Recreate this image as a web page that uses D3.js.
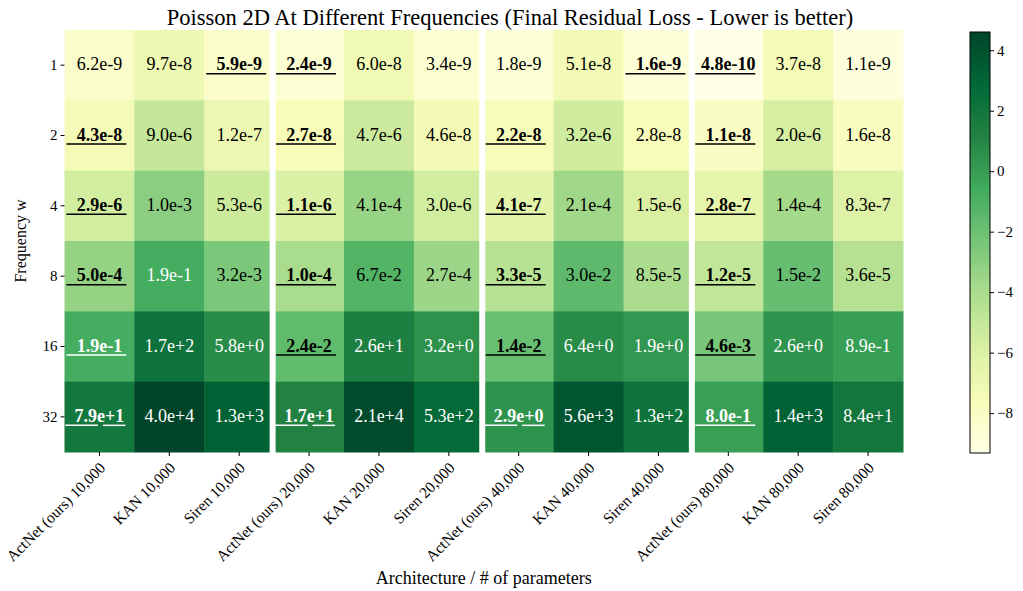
<!DOCTYPE html>
<html>
<head>
<meta charset="utf-8">
<script src="https://cdn.jsdelivr.net/npm/d3@7"></script>
<style>
  body { margin: 0; background: #fff; }
  text { font-family: "Liberation Serif", "DejaVu Serif", serif; }
</style>
</head>
<body>
<svg width="1023" height="591"></svg>
<script>
// columns: architecture / # of parameters
let columns = [
  "ActNet (ours) 10,000", "KAN 10,000", "Siren 10,000",
  "ActNet (ours) 20,000", "KAN 20,000", "Siren 20,000",
  "ActNet (ours) 40,000", "KAN 40,000", "Siren 40,000",
  "ActNet (ours) 80,000", "KAN 80,000", "Siren 80,000"
]
let frequencies = ["1", "2", "4", "8", "16", "32"]

// final residual loss, one array per frequency row
let freq1  = [6.2e-9, 9.7e-8, 5.9e-9, 2.4e-9, 6.0e-8, 3.4e-9, 1.8e-9, 5.1e-8, 1.6e-9, 4.8e-10, 3.7e-8, 1.1e-9]
let freq2  = [4.3e-8, 9.0e-6, 1.2e-7, 2.7e-8, 4.7e-6, 4.6e-8, 2.2e-8, 3.2e-6, 2.8e-8, 1.1e-8, 2.0e-6, 1.6e-8]
let freq4  = [2.9e-6, 1.0e-3, 5.3e-6, 1.1e-6, 4.1e-4, 3.0e-6, 4.1e-7, 2.1e-4, 1.5e-6, 2.8e-7, 1.4e-4, 8.3e-7]
let freq8  = [5.0e-4, 1.9e-1, 3.2e-3, 1.0e-4, 6.7e-2, 2.7e-4, 3.3e-5, 3.0e-2, 8.5e-5, 1.2e-5, 1.5e-2, 3.6e-5]
let freq16 = [1.9e-1, 1.7e+2, 5.8e+0, 2.4e-2, 2.6e+1, 3.2e+0, 1.4e-2, 6.4e+0, 1.9e+0, 4.6e-3, 2.6e+0, 8.9e-1]
let freq32 = [7.9e+1, 4.0e+4, 1.3e+3, 1.7e+1, 2.1e+4, 5.3e+2, 2.9e+0, 5.6e+3, 1.3e+2, 8.0e-1, 1.4e+3, 8.4e+1]
let rows = [freq1, freq2, freq4, freq8, freq16, freq32]

let cbarTicks = [4, 2, 0, -2, -4, -6, -8]

let svg = d3.select("svg")

let hmLeft = 64.5, hmRight = 903, hmTop = 30, hmBottom = 452

let xScale = d3.scaleBand().domain(d3.range(columns.length)).range([hmLeft, hmRight])
let yScale = d3.scaleBand().domain(d3.range(frequencies.length)).range([hmTop, hmBottom])

let allLogs = rows.flat().map(v => Math.log10(v))
let lo = d3.min(allLogs), hi = d3.max(allLogs)

let ylgn = d3.schemeYlGn[9]
let colorScale = d3.scaleLinear()
  .domain(d3.range(9).map(i => lo + (hi - lo) * i / 8))
  .range(ylgn)

// flatten to cells, best = lowest in each group of 3
let cells = []
rows.forEach((r, ri) => {
  r.forEach((v, ci) => {
    let g = Math.floor(ci / 3) * 3
    let best = d3.min(r.slice(g, g + 3))
    cells.push({ r: ri, c: ci, v: v, best: v === best })
  })
})

svg.selectAll("rect.cell")
  .data(cells)
  .enter()
  .append("rect")
  .attr("class", "cell")
  .attr("x", d => xScale(d.c))
  .attr("y", d => yScale(d.r))
  .attr("width", xScale.bandwidth() + 0.5)
  .attr("height", yScale.bandwidth() + 0.5)
  .attr("fill", d => colorScale(Math.log10(d.v)))

// white separators between parameter groups
svg.selectAll("line.sep")
  .data([3, 6, 9])
  .enter()
  .append("line")
  .attr("x1", d => xScale(d) - 1.5).attr("x2", d => xScale(d) - 1.5)
  .attr("y1", hmTop - 1).attr("y2", hmBottom + 1)
  .attr("stroke", "#fff")
  .attr("stroke-width", 6)

let fmt = v => v.toExponential(1)

let textColor = d => Math.log10(d.v) > -1 ? "#fff" : "#000"

let labels = svg.selectAll("g.lab")
  .data(cells)
  .enter()
  .append("g")
  .attr("transform", d => "translate(" + (xScale(d.c) + xScale.bandwidth() / 2) + "," + (yScale(d.r) + yScale.bandwidth() / 2) + ")")

labels.append("text")
  .attr("text-anchor", "middle")
  .attr("dy", "0.28em")
  .attr("font-size", 18)
  .attr("font-weight", d => d.best ? "bold" : "normal")
  .attr("fill", textColor)
  .text(d => fmt(d.v))

// underline under the best value; it breaks at the "+" sign like in the original
let underlineSegs = d => fmt(d.v).includes("+") ? [[-34, -1.5], [3.5, 26]] : [[-33, 27]]

labels.filter(d => d.best)
  .selectAll("line")
  .data(d => underlineSegs(d).map(s => ({ s: s, d: d })))
  .enter()
  .append("line")
  .attr("x1", e => e.s[0]).attr("x2", e => e.s[1])
  .attr("y1", 8.5).attr("y2", 8.5)
  .attr("stroke", e => textColor(e.d))
  .attr("stroke-width", 1.5)

// axes
let xAxis = d3.axisBottom(xScale).tickSize(4).tickFormat(i => columns[i])
let gx = svg.append("g")
  .attr("transform", "translate(0," + hmBottom + ")")
  .call(xAxis)
gx.select(".domain").remove()
gx.selectAll("text")
  .attr("font-size", 15.5)
  .attr("font-family", "Liberation Serif")
  .attr("text-anchor", "end")
  .attr("x", 0).attr("y", 0).attr("dy", "0.35em")
  .attr("transform", "translate(3,13) rotate(-45)")
  .attr("fill", "#000")

let yAxis = d3.axisLeft(yScale).tickSize(4).tickFormat(i => frequencies[i])
let gy = svg.append("g")
  .attr("transform", "translate(" + hmLeft + ",0)")
  .call(yAxis)
gy.select(".domain").remove()
gy.selectAll("text")
  .attr("font-size", 15)
  .attr("font-family", "Liberation Serif")
  .attr("fill", "#000")

// suptitle centred on the whole figure
svg.append("text")
  .attr("x", 510).attr("y", 25)
  .attr("text-anchor", "middle")
  .attr("font-size", 22.5)
  .text("Poisson 2D At Different Frequencies (Final Residual Loss - Lower is better)")

svg.append("text")
  .attr("x", (hmLeft + hmRight) / 2).attr("y", 584)
  .attr("text-anchor", "middle")
  .attr("font-size", 18)
  .text("Architecture / # of parameters")

svg.append("text")
  .attr("transform", "translate(26," + ((hmTop + hmBottom) / 2) + ") rotate(-90)")
  .attr("text-anchor", "middle")
  .attr("font-size", 16)
  .text("Frequency w")

// colorbar
let cbX = 970, cbW = 20, cbTop = 32, cbBottom = 453
let cbScale = d3.scaleLinear().domain([lo, hi]).range([cbBottom, cbTop])

let defs = svg.append("defs")
let grad = defs.append("linearGradient")
  .attr("id", "cbgrad")
  .attr("x1", 0).attr("y1", 1).attr("x2", 0).attr("y2", 0)
grad.selectAll("stop")
  .data(ylgn)
  .enter()
  .append("stop")
  .attr("offset", (d, i) => i / 8)
  .attr("stop-color", d => d)

svg.append("rect")
  .attr("x", cbX).attr("y", cbTop)
  .attr("width", cbW).attr("height", cbBottom - cbTop)
  .attr("fill", "url(#cbgrad)")
  .attr("stroke", "#000")
  .attr("stroke-width", 1)

let cbAxis = d3.axisRight(cbScale).tickValues(cbarTicks).tickSize(4)
  .tickFormat(d => d < 0 ? "\u2212" + Math.abs(d) : d)
let gc = svg.append("g")
  .attr("transform", "translate(" + (cbX + cbW) + ",0)")
  .call(cbAxis)
gc.select(".domain").remove()
gc.selectAll("text")
  .attr("font-size", 15)
  .attr("font-family", "Liberation Serif")
  .attr("fill", "#000")
</script>
</body>
</html>
